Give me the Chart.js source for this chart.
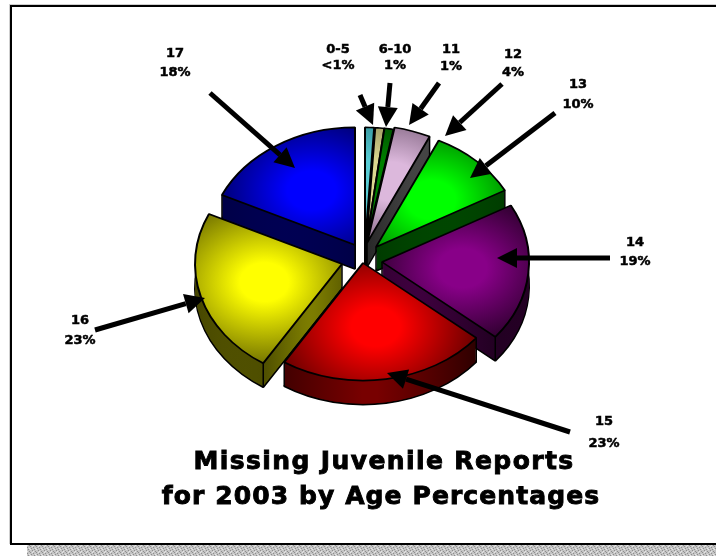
<!DOCTYPE html>
<html>
<head>
<meta charset="utf-8">
<title>Missing Juvenile Reports for 2003 by Age Percentages</title>
<script src="https://cdn.jsdelivr.net/npm/chart.js@4/dist/chart.umd.min.js"></script>
<style>
html,body{margin:0;padding:0;background:#fff;overflow:hidden}
canvas{display:block}
</style>
</head>
<body>
<canvas id="c" width="716" height="556"></canvas>
<script>
const ageLabels = ["0-5","6-10","11","12","13","14","15","16","17"];
const percentLabels = ["<1%","1%","1%","4%","10%","19%","23%","23%","18%"];
const percentValues = [1,1,1,4,10,19,23,23,18];
const titleLines = ["Missing Juvenile Reports","for 2003 by Age Percentages"];

// style: bright centre, dark rim, wall light, wall dark
const sliceBright = ["#58ccd4","#dcd890","#008000","#dcb8dc","#00ff00","#880088","#ff0000","#ffff00","#0000ff"];
const sliceRim    = ["#1e6c74","#6e6c40","#003000","#584058","#005800","#180018","#5a0000","#666600","#000050"];
const wallLight   = ["#104048","#505030","#002800","#505050","#006000","#400040","#780000","#808000","#000080"];
const wallDark    = ["#082028","#282818","#001000","#282828","#003000","#180018","#200000","#303000","#000040"];
const explodeX    = [-2,-1,-1,0,9,15,-4,-25,-12];
const explodeY    = [-15,-15,-15,-17,-13,2,3,4,-15];
const paintOrder  = [8,0,1,2,3,4,5,7,6];

const SQUISH = 0.8, DEPTH = 24;

// label placement: [x, y of first line, y of second line]
const labelAt = [[338,50,66],[395,50,66],[451,50,67],[513,55,73],[578,85,105],[635,243,262],[604,422,444],[80,321,341],[175,54,73]];
// callout arrows: tail x, tail y, tip x, tip y
const arrowAt = [[360,95,373,125],[390,83,386,127],[439,83,409,125],[502,84,445,136],[555,113,470,178],[610,258,497,258],[570,432,387,373],[95,330,205,298],[210,93,295,168]];

function drawArrow(ctx,a){
  const [x0,y0,x1,y1]=a, t=Math.atan2(y1-y0,x1-x0), L=20, W=10;
  const bx=x1-Math.cos(t)*L, by=y1-Math.sin(t)*L;
  ctx.strokeStyle="#000"; ctx.fillStyle="#000"; ctx.lineWidth=5; ctx.lineCap="butt";
  ctx.beginPath(); ctx.moveTo(x0,y0); ctx.lineTo(bx,by); ctx.stroke();
  ctx.beginPath(); ctx.moveTo(x1,y1);
  ctx.lineTo(bx-Math.sin(t)*W,by+Math.cos(t)*W);
  ctx.lineTo(bx+Math.sin(t)*W,by-Math.cos(t)*W);
  ctx.closePath(); ctx.fill();
}

const framePlugin = {
  id:"frame",
  beforeDraw(chart){
    const ctx=chart.ctx;
    ctx.save();
    ctx.fillStyle="#fff"; ctx.fillRect(0,0,716,556);
    // textured shadow strip
    const p=document.createElement("canvas"); p.width=p.height=6;
    const q=p.getContext("2d"); q.fillStyle="#c4c4c4"; q.fillRect(0,0,6,6);
    q.fillStyle="#8e8e8e";
    [[0,0],[3,1],[1,2],[4,3],[2,4],[5,5]].forEach(c=>q.fillRect(c[0],c[1],1,1));
    q.fillStyle="#e6e6e6";
    [[2,0],[5,2],[0,3],[3,5]].forEach(c=>q.fillRect(c[0],c[1],1,1));
    ctx.fillStyle=ctx.createPattern(p,"repeat");
    ctx.fillRect(27,545,689,11);
    // frame
    ctx.fillStyle="#cfcfcf"; ctx.fillRect(9,4,707,1); ctx.fillRect(9,4,1,540);
    ctx.fillStyle="#000";
    ctx.fillRect(10,5,706,2); ctx.fillRect(10,5,2,540); ctx.fillRect(10,543,706,2);
    ctx.restore();
  }
};

const pie3dPlugin = {
  id:"pie3d",
  beforeDatasetsDraw(chart){
    const ctx=chart.ctx, arcs=chart.getDatasetMeta(0).data;
    paintOrder.forEach(i=>{
      const arc=arcs[i], base=arc.options, r=arc.outerRadius;
      const mid=(arc.startAngle+arc.endAngle)/2;
      const cx=arc.x, cy=arc.y;
      const ex=explodeX[i], ey=explodeY[i];
      const place=(dy)=>{
        ctx.translate(cx+ex,cy+ey+dy); ctx.scale(1,SQUISH); ctx.translate(-cx,-cy);
      };
      // wall
      const wx=cx+Math.cos(mid)*r*0.3, wy=cy+Math.sin(mid)*r;
      const wg=ctx.createRadialGradient(wx,wy,r*0.05,wx,wy,r*0.95);
      wg.addColorStop(0,wallLight[i]); wg.addColorStop(1,wallDark[i]);
      ctx.save(); place(DEPTH);
      arc.options=Object.assign({},base,{backgroundColor:wg,borderColor:"#000",borderWidth:2});
      arc.draw(ctx);
      ctx.restore();
      arc.options=Object.assign({},base,{backgroundColor:wg,borderWidth:0});
      for(let d=DEPTH-1;d>0;d--){
        ctx.save(); place(d); arc.draw(ctx); ctx.restore();
      }
      // vertical corner edges
      const corners=[[cx,cy],
        [cx+Math.cos(arc.startAngle)*r,cy+Math.sin(arc.startAngle)*r],
        [cx+Math.cos(arc.endAngle)*r,cy+Math.sin(arc.endAngle)*r]];
      ctx.save(); ctx.strokeStyle="#000"; ctx.lineWidth=1.5;
      corners.forEach(c=>{
        const X=c[0]+ex, Y=cy+(c[1]-cy)*SQUISH+ey;
        ctx.beginPath(); ctx.moveTo(X,Y); ctx.lineTo(X,Y+DEPTH); ctx.stroke();
      });
      ctx.restore();
      // top face
      ctx.save(); place(0);
      const gx=cx+Math.cos(mid)*r*0.55, gy=cy+Math.sin(mid)*r*0.55;
      const g=ctx.createRadialGradient(gx,gy,0,gx,gy,r*0.75);
      g.addColorStop(0,sliceBright[i]); g.addColorStop(0.22,sliceBright[i]); g.addColorStop(1,sliceRim[i]);
      arc.options=Object.assign({},base,{backgroundColor:g,borderColor:"#000",borderWidth:2});
      arc.draw(ctx);
      ctx.restore();
      arc.options=base;
    });
    return false;
  }
};

const textPlugin = {
  id:"calloutText",
  afterDraw(chart){
    const ctx=chart.ctx;
    ctx.save();
    arrowAt.forEach(a=>drawArrow(ctx,a));
    ctx.fillStyle="#000"; ctx.strokeStyle="#000"; ctx.textAlign="center"; ctx.textBaseline="middle";
    ctx.font='bold 13px "DejaVu Sans"'; ctx.lineWidth=0.5;
    ageLabels.forEach((t,i)=>{
      const p=labelAt[i];
      ctx.fillText(t,p[0],p[1]); ctx.strokeText(t,p[0],p[1]);
      ctx.fillText(percentLabels[i],p[0],p[2]); ctx.strokeText(percentLabels[i],p[0],p[2]);
    });
    ctx.font='bold 25px "DejaVu Sans"'; ctx.lineWidth=0.9;
    ctx.letterSpacing="1.4px";
    ctx.fillText(titleLines[0],384,462); ctx.strokeText(titleLines[0],384,462);
    ctx.letterSpacing="1.1px";
    ctx.fillText(titleLines[1],381,497); ctx.strokeText(titleLines[1],381,497);
    ctx.restore();
  }
};

new Chart(document.getElementById("c"),{
  type:"pie",
  data:{labels:ageLabels,datasets:[{data:percentValues,backgroundColor:sliceBright,borderColor:"#000",borderWidth:2,radius:147}]},
  options:{
    responsive:false,animation:false,
    layout:{padding:{left:18,right:0,top:0,bottom:36}},
    plugins:{legend:{display:false},tooltip:{enabled:false},title:{display:false}}
  },
  plugins:[framePlugin,pie3dPlugin,textPlugin]
});
</script>
</body>
</html>
